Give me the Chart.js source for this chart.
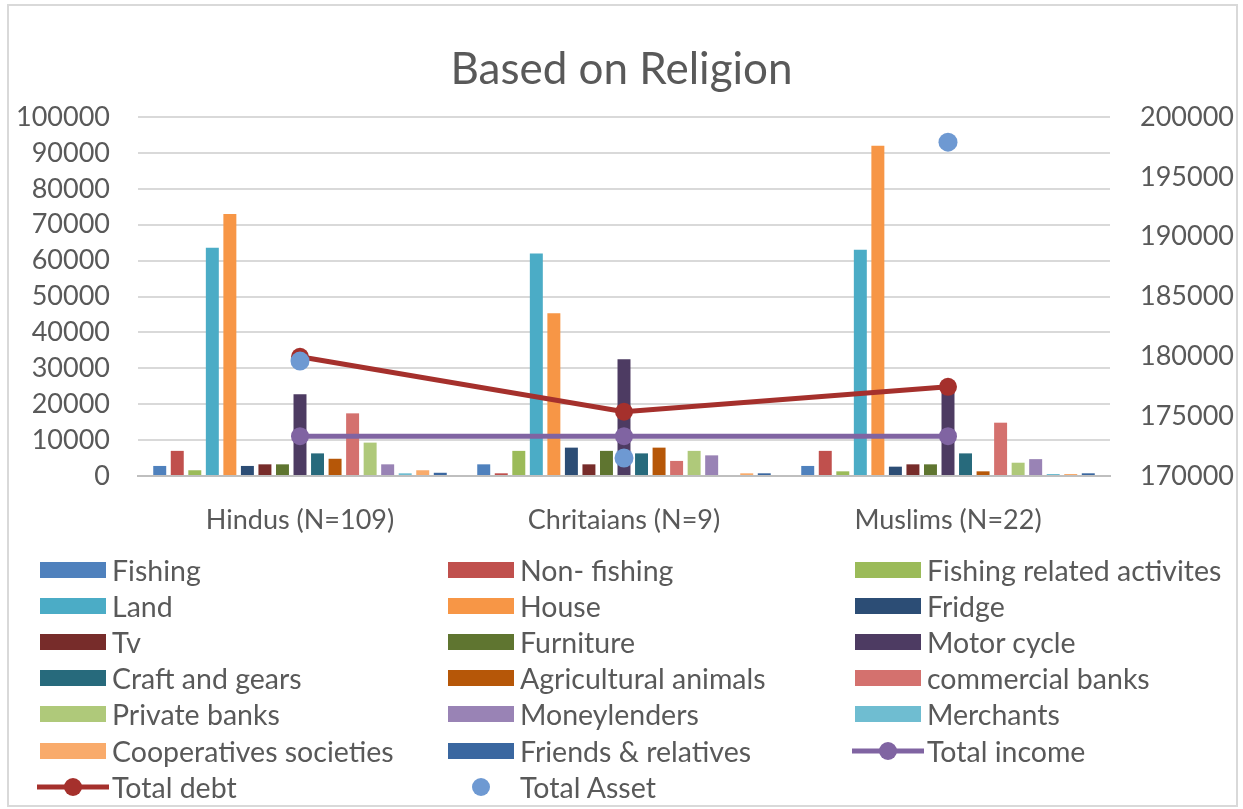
<!DOCTYPE html>
<html>
<head>
<meta charset="utf-8">
<title>Based on Religion</title>
<script src="https://cdn.jsdelivr.net/npm/chart.js@4.4.0/dist/chart.umd.min.js"></script>
<style>
  html, body { margin: 0; padding: 0; background: #fff; }
  body { width: 1243px; height: 809px; position: relative; overflow: hidden; font-family: Lato, "Open Sans", sans-serif; }
  #frame { position: absolute; left: 7px; top: 4px; width: 1227px; height: 799px; border: 2px solid #d9d9d9; }
  #chartBox { position: absolute; left: 0; top: 0; width: 1243px; height: 545px; }
  #legend { position: absolute; left: 0; top: 0; width: 1243px; height: 809px; pointer-events: none; }
  .item { position: absolute; height: 36px; display: flex; align-items: center; color: #595959; font-size: 28.5px; white-space: nowrap; }
  .item svg { flex: none; margin-right: 3px; }
</style>
</head>
<body>
<div id="frame"></div>
<div id="chartBox"><canvas id="religionChart" width="1243" height="545"></canvas></div>
<div id="legend"></div>
<script>
// Категории (группы по религии)
const categories = ['Hindus (N=109)', 'Chritaians (N=9)', 'Muslims (N=22)'];

// Активы и долги по источникам, левая ось
const fishing = [2800, 3250, 2800];
const nonFishing = [7000, 750, 7000];
const fishingRelated = [1600, 7000, 1300];
const land = [63600, 62000, 63000];
const house = [73000, 45300, 92000];
const fridge = [2800, 7900, 2600];
const tv = [3250, 3250, 3250];
const furniture = [3250, 7000, 3250];
const motorCycle = [22750, 32500, 24500];
const craftGears = [6300, 6300, 6300];
const agriAnimals = [4800, 7900, 1300];
const commercialBanks = [17450, 4200, 14850];
const privateBanks = [9300, 7000, 3700];
const moneylenders = [3250, 5750, 4700];
const merchants = [750, 0, 550];
const cooperatives = [1600, 750, 550];
const friendsRelatives = [900, 750, 750];

// Линии (левая ось) и общий актив (правая ось)
const totalIncome = [11100, 11100, 11100];
const totalDebt = [33200, 17900, 24850];
const totalAsset = [179600, 171500, 197900];

// Деления осей
const leftTicks = [0, 10000, 20000, 30000, 40000, 50000, 60000, 70000, 80000, 90000, 100000];
const rightTicks = [170000, 175000, 180000, 185000, 190000, 195000, 200000];

const FONT = 'Lato, "Open Sans", sans-serif';
const TEXT = '#595959';

const barSeries = [
  ['Fishing', fishing, '#4F81BD'],
  ['Non- fishing', nonFishing, '#C0504D'],
  ['Fishing related activites', fishingRelated, '#9BBB59'],
  ['Land', land, '#4BACC6'],
  ['House', house, '#F79646'],
  ['Fridge', fridge, '#2C4D75'],
  ['Tv', tv, '#772C2A'],
  ['Furniture', furniture, '#5F7530'],
  ['Motor cycle', motorCycle, '#4D3B62'],
  ['Craft and gears', craftGears, '#276A7C'],
  ['Agricultural animals', agriAnimals, '#B65708'],
  ['commercial banks', commercialBanks, '#D4716E'],
  ['Private banks', privateBanks, '#AFC97A'],
  ['Moneylenders', moneylenders, '#9983B5'],
  ['Merchants', merchants, '#6FBDD1'],
  ['Cooperatives societies', cooperatives, '#F9AB6B'],
  ['Friends & relatives', friendsRelatives, '#3A67A0']
];

const datasets = barSeries.map(([label, data, color]) => ({
  type: 'bar',
  label,
  data,
  backgroundColor: color,
  borderWidth: 0,
  categoryPercentage: 0.92,
  barPercentage: 0.74,
  yAxisID: 'y',
  order: 5,
  legendKind: 'bar'
}));

datasets.push({
  type: 'line',
  label: 'Total income',
  data: totalIncome,
  borderColor: '#8064A2',
  backgroundColor: '#8064A2',
  borderWidth: 5,
  pointRadius: 9,
  pointBorderWidth: 0,
  tension: 0,
  yAxisID: 'y',
  order: 2,
  legendKind: 'line'
});

datasets.push({
  type: 'line',
  label: 'Total debt',
  data: totalDebt,
  borderColor: '#A5302C',
  backgroundColor: '#A5302C',
  borderWidth: 5,
  pointRadius: 9,
  pointBorderWidth: 0,
  tension: 0,
  yAxisID: 'y',
  order: 1,
  legendKind: 'line'
});

datasets.push({
  type: 'line',
  label: 'Total Asset',
  data: totalAsset,
  showLine: false,
  borderColor: '#6E99D2',
  backgroundColor: '#6E99D2',
  pointRadius: 9.5,
  pointBorderWidth: 0,
  yAxisID: 'y1',
  order: 0,
  legendKind: 'dot'
});

const tickFont = { family: FONT, size: 27 };

const chart = new Chart(document.getElementById('religionChart'), {
  data: { labels: categories, datasets },
  options: {
    responsive: false,
    animation: false,
    layout: { padding: 0 },
    plugins: {
      legend: { display: false },
      tooltip: { enabled: false },
      title: {
        display: true,
        text: 'Based on Religion',
        color: TEXT,
        font: { family: FONT, size: 44, weight: 'normal' },
        padding: { top: 43, bottom: 21.2 }
      }
    },
    scales: {
      x: {
        grid: { display: false, drawTicks: false },
        border: { display: true, color: '#BFBFBF', width: 2 },
        ticks: { font: tickFont, color: TEXT, padding: 28 },
        afterFit: s => { s.height = 69; }
      },
      y: {
        position: 'left',
        min: leftTicks[0],
        max: leftTicks[leftTicks.length - 1],
        afterBuildTicks: s => { s.ticks = leftTicks.map(v => ({ value: v })); },
        ticks: { font: tickFont, color: TEXT, padding: 28, callback: v => String(v) },
        grid: { color: '#D9D9D9', lineWidth: 2, drawTicks: false },
        border: { display: false },
        afterFit: s => { s.width = 138; }
      },
      y1: {
        position: 'right',
        min: rightTicks[0],
        max: rightTicks[rightTicks.length - 1],
        afterBuildTicks: s => { s.ticks = rightTicks.map(v => ({ value: v })); },
        ticks: { font: tickFont, color: TEXT, padding: 30, callback: v => String(v) },
        grid: { display: false, drawTicks: false },
        border: { display: false },
        afterFit: s => { s.width = 133; }
      }
    }
  }
});

// Легенда: три колонки, строки по порядку наборов данных
const legendEl = document.getElementById('legend');
const colLeft = [37, 445, 852];
const rowTop = 552;
const rowStep = 36.1;

function swatch(kind, color) {
  if (kind === 'bar') {
    return `<svg width="72" height="20"><rect x="3" y="2" width="66" height="16" fill="${color}"/></svg>`;
  }
  if (kind === 'line') {
    return `<svg width="72" height="20"><line x1="0" y1="10" x2="72" y2="10" stroke="${color}" stroke-width="5"/><circle cx="36" cy="10" r="9" fill="${color}"/></svg>`;
  }
  return `<svg width="72" height="20"><circle cx="36" cy="10" r="9" fill="${color}"/></svg>`;
}

chart.data.datasets.forEach((ds, i) => {
  const item = document.createElement('div');
  item.className = 'item';
  item.style.left = colLeft[i % 3] + 'px';
  item.style.top = (rowTop + Math.floor(i / 3) * rowStep) + 'px';
  item.innerHTML = swatch(ds.legendKind, ds.backgroundColor) + '<span></span>';
  item.querySelector('span').textContent = ds.label;
  legendEl.appendChild(item);
});
</script>
</body>
</html>
